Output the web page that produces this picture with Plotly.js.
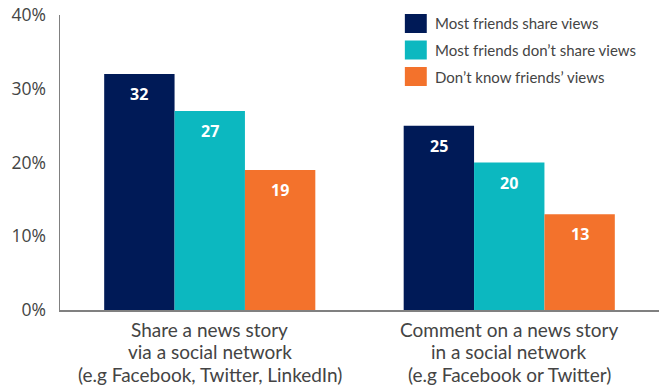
<!DOCTYPE html>
<html><head><meta charset="utf-8">
<script src="https://cdn.plot.ly/plotly-3.0.1.min.js"></script>
<style>html,body{margin:0;padding:0;background:#fff}#chart{width:659px;height:387px}</style>
</head><body><div id="chart"></div>
<script>
const categoryLines = [
  ["Share a news story", "via a social network", "(e.g Facebook, Twitter, LinkedIn)"],
  ["Comment on a news story", "in a social network", "(e.g Facebook or Twitter)"]
];
const categories = categoryLines.map(l => l.join(" "));
const seriesNames = ["Most friends share views", "Most friends don\u2019t share views", "Don\u2019t know friends\u2019 views"];
const mostShare = [32, 25];
const mostDontShare = [27, 20];
const dontKnow = [19, 13];
const yTicks = [0, 10, 20, 30, 40];

const colors = ["#001a57", "#0cb8c0", "#f3722c"];
const seriesValues = [mostShare, mostDontShare, dontKnow];

const traces = seriesValues.map((vals, i) => ({
  type: "bar", x: categories, y: vals, name: seriesNames[i],
  marker: {color: colors[i], line: {width: 0}}, showlegend: false, hoverinfo: "none"
}));

const annotations = [];
seriesValues.forEach((vals, i) => {
  vals.forEach((v, j) => {
    annotations.push({
      x: categories[j], y: v, xref: "x", yref: "y", text: String(v), showarrow: false,
      xshift: (i - 1) * 70.7, yanchor: "top", yshift: -7,
      font: {family: "Open Sans, sans-serif", size: 16, color: "#ffffff", weight: 700}
    });
  });
});
// category labels, one annotation per line
categoryLines.forEach((lines, j) => {
  lines.forEach((t, k) => {
    annotations.push({
      x: categories[j], xref: "x", yref: "paper", y: (310 - (329 + k * 22.5)) / 295,
      yanchor: "middle", xanchor: "center", showarrow: false, text: t,
      font: {family: "Lato, sans-serif", size: 19, color: "#444444"}
    });
  });
});
const shapes = [];
seriesNames.forEach((n, i) => {
  const top = 14 + i * 26.5;
  shapes.push({type: "rect", xref: "paper", yref: "paper",
    x0: (406 - 60) / 601, x1: (428 - 60) / 601,
    y0: (310 - top) / 295, y1: (310 - top - 19) / 295,
    fillcolor: colors[i], line: {width: 0}});
  annotations.push({xref: "paper", yref: "paper", x: (434 - 60) / 601, y: (310 - top - 9.5) / 295,
    xanchor: "left", yanchor: "middle", showarrow: false, text: n,
    font: {family: "Lato, sans-serif", size: 15, color: "#444444"}});
});

const layout = {
  width: 659, height: 387,
  margin: {l: 60, r: 0, t: 15, b: 77},
  paper_bgcolor: "#ffffff", plot_bgcolor: "#ffffff",
  barmode: "group", bargap: 0.295, bargroupgap: 0,
  xaxis: {type: "category", showline: true, linecolor: "#808080", linewidth: 2,
    ticks: "", showgrid: false, zeroline: false, showticklabels: false},
  yaxis: {range: [0, 40], tickvals: yTicks, ticktext: yTicks.map(t => t + "%"),
    showline: true, linecolor: "#808080", linewidth: 1.5, showgrid: false, zeroline: false,
    ticks: "", ticklabelstandoff: 9,
    tickfont: {family: "Open Sans, sans-serif", size: 17.5, color: "#444444"}},
  shapes: shapes, annotations: annotations, showlegend: false
};
Plotly.newPlot("chart", traces, layout, {displayModeBar: false, staticPlot: true});
</script></body></html>
